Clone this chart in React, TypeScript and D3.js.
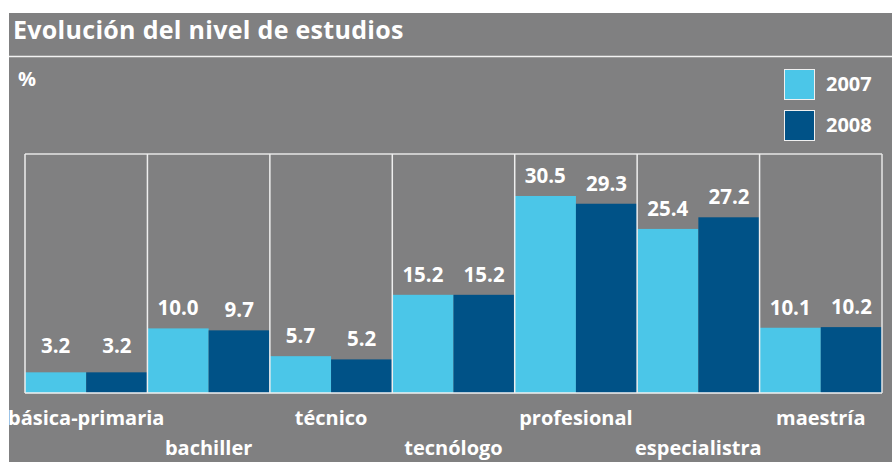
import React from "react";
import * as d3 from "d3";

const categories = ["básica-primaria", "bachiller", "técnico", "tecnólogo", "profesional", "especialistra", "maestría"];
const series2007 = [3.2, 10.0, 5.7, 15.2, 30.5, 25.4, 10.1];
const series2008 = [3.2, 9.7, 5.2, 15.2, 29.3, 27.2, 10.2];
const seriesNames = ["2007", "2008"];
const valueLabels2007 = ["3.2", "10.0", "5.7", "15.2", "30.5", "25.4", "10.1"];
const valueLabels2008 = ["3.2", "9.7", "5.2", "15.2", "29.3", "27.2", "10.2"];

const W = 892;
const H = 462;
const BG = "#808081";
const C1 = "#4BC6E8";
const C2 = "#005287";
const FONT = "'Open Sans', 'DejaVu Sans', sans-serif";

export default function App() {
  const left = 25, right = 882, top = 154, bottom = 393;
  const x = d3.scaleBand<string>().domain(categories).range([left, right]).padding(0);
  const x1 = d3.scaleBand<string>().domain(seriesNames).range([0, x.bandwidth()]).padding(0);
  const y = d3.scaleLinear().domain([0, 37]).range([bottom, top]);
  const series = [series2007, series2008];
  const labels = [valueLabels2007, valueLabels2008];
  const colors = [C1, C2];

  return (
    <svg width={W} height={H} style={{ position: "absolute", left: 0, top: 0 }} xmlns="http://www.w3.org/2000/svg">
      <rect x={0} y={0} width={W} height={H} fill="#ffffff" />
      <rect x={9} y={13} width={W - 9} height={H - 13} fill={BG} />
      <text x={13} y={39} fill="#fff" fontFamily={FONT} fontWeight={700} fontSize={25} letterSpacing={0.3}>
        Evolución del nivel de estudios
      </text>
      <line x1={9} x2={W} y1={56.5} y2={56.5} stroke="#f2f2f2" strokeWidth={1.5} />
      <text x={18} y={86} fill="#fff" fontFamily={FONT} fontWeight={700} fontSize={20}>%</text>

      {/* bars */}
      {categories.map((c, i) => (
        <g key={c}>
          {seriesNames.map((s, j) => {
            const v = series[j][i];
            const bx = (x(c) as number) + (x1(s) as number);
            return (
              <g key={s}>
                <rect x={bx} y={y(v)} width={x1.bandwidth()} height={bottom - y(v)} fill={colors[j]} />
                <text x={bx + x1.bandwidth() / 2} y={Math.min(y(v) - 13, 353)} textAnchor="middle" fill="#fff"
                  fontFamily={FONT} fontWeight={700} fontSize={20.5}>
                  {labels[j][i]}
                </text>
              </g>
            );
          })}
        </g>
      ))}

      {/* frame */}
      <line x1={left} x2={right} y1={top} y2={top} stroke="#e6e6e6" strokeWidth={1.5} />
      <line x1={left} x2={right} y1={bottom} y2={bottom} stroke="#f2f2f2" strokeWidth={1.5} />
      {categories.map((c) => (
        <line key={c} x1={x(c)} x2={x(c)} y1={top} y2={bottom} stroke="#eeeeee" strokeWidth={1.5} />
      ))}
      <line x1={right} x2={right} y1={top} y2={bottom} stroke="#e6e6e6" strokeWidth={1.5} />

      {/* category labels */}
      {categories.map((c, i) => (
        <text key={c} x={(x(c) as number) + x.bandwidth() / 2} y={i % 2 === 0 ? 425 : 455} textAnchor="middle"
          fill="#fff" fontFamily={FONT} fontWeight={700} fontSize={20}>
          {c}
        </text>
      ))}

      {/* legend */}
      {seriesNames.map((s, j) => (
        <g key={s}>
          <rect x={784.5} y={69.5 + j * 41} width={30} height={30} fill={colors[j]} stroke="#f0f0f0" strokeWidth={1} />
          <text x={826} y={91 + j * 41} fill="#fff" fontFamily={FONT} fontWeight={700} fontSize={20}>{s}</text>
        </g>
      ))}
    </svg>
  );
}
